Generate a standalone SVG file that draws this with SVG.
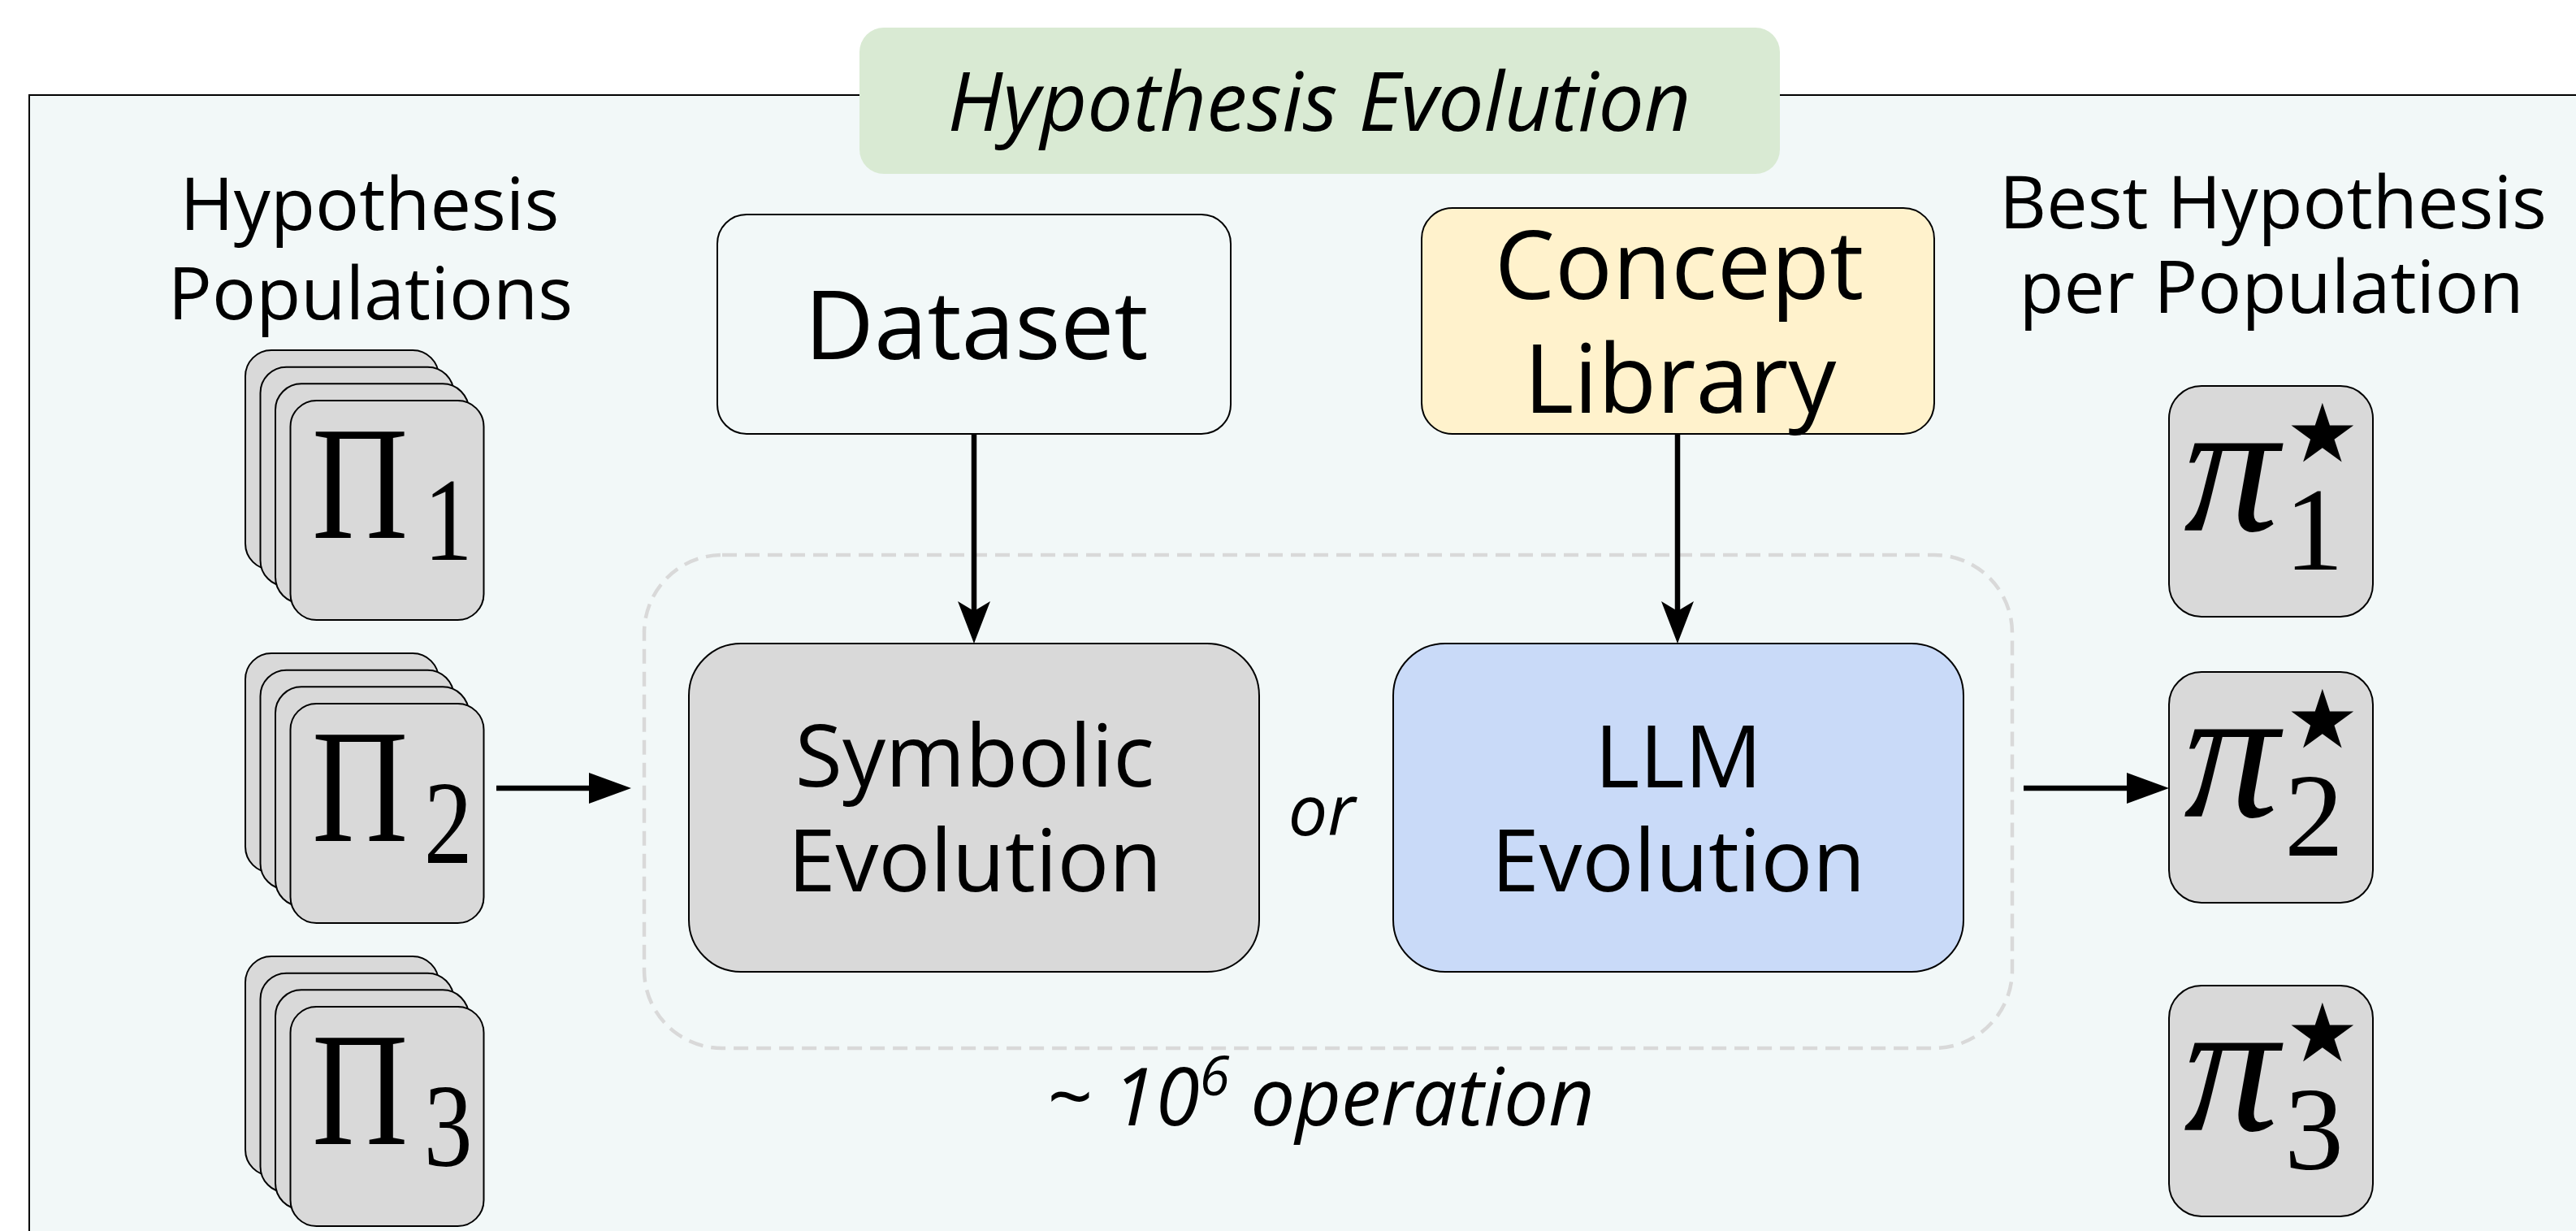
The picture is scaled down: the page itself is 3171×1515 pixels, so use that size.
<svg xmlns="http://www.w3.org/2000/svg" width="3171" height="1515" viewBox="0 0 3171 1515">
  <defs>
    <style>
      .lbl{font-family:"Open Sans","Noto Sans",sans-serif;fill:#000;text-anchor:middle}
      .it{font-style:italic}
      .box{stroke:#000;stroke-width:2}
      .card{fill:#d9d9d9;stroke:#000;stroke-width:2}
      .math{font-family:"Liberation Serif","DejaVu Serif",serif;fill:#000}
      .big{font-size:200px}
      .sub{font-size:146px}
      .pi{font-size:234px;font-style:italic}
      .star{font-family:"DejaVu Sans",sans-serif;font-size:100px}
      .edge{stroke:#000;stroke-width:6.5;fill:none}
    </style>
    <marker id="tri" markerUnits="userSpaceOnUse" viewBox="0 0 52 38" refX="12" refY="19" markerWidth="52" markerHeight="38" orient="auto">
      <path d="M0,0 L52,19 L0,38 Z" fill="#000"/>
    </marker>
    <marker id="stealth" markerUnits="userSpaceOnUse" viewBox="0 0 52 40" refX="12" refY="20" markerWidth="52" markerHeight="40" orient="auto">
      <path d="M0,0 L52,20 L0,40 L12,20 Z" fill="#000"/>
    </marker>
  </defs>

  <rect width="3171" height="1515" fill="#ffffff"/>

  <!-- outer frame -->
  <rect id="frame" x="36" y="117" width="3200" height="1500" fill="#f2f8f8" stroke="#000" stroke-width="2"/>

  <!-- title tab -->
  <g id="title">
    <rect x="1058" y="34" width="1133" height="180" rx="30" fill="#d9ead3"/>
    <text class="lbl it" x="1624" y="161" font-size="100">Hypothesis Evolution</text>
  </g>

  <!-- column headings -->
  <g id="populations-label">
    <text class="lbl" x="455" y="283" font-size="90">Hypothesis</text>
    <text class="lbl" x="456" y="393" font-size="90">Populations</text>
  </g>
  <g id="best-label">
    <text class="lbl" x="2798" y="281" font-size="90">Best Hypothesis</text>
    <text class="lbl" x="2796" y="385" font-size="90">per Population</text>
  </g>

  <!-- loop region -->
  <g id="operation-loop">
    <rect x="793" y="683" width="1684" height="607" rx="96" fill="none" stroke="#d9d9d9" stroke-width="4.5" stroke-dasharray="18 10"/>
    <text class="lbl it" x="1625" y="1385" font-size="98">~ 10<tspan font-size="67" dy="-37">6</tspan><tspan dy="37"> operation</tspan></text>
  </g>

  <!-- inputs -->
  <g id="dataset">
    <rect class="box" x="883" y="264" width="632" height="270" rx="36" fill="#f2f8f8"/>
    <text class="lbl" x="1202" y="442" font-size="118">Dataset</text>
  </g>
  <g id="concept-library">
    <rect class="box" x="1750" y="256" width="631" height="278" rx="38" fill="#fff2cc"/>
    <text class="lbl" x="2067" y="368" font-size="118">Concept</text>
    <text class="lbl" x="2068" y="508" font-size="118">Library</text>
  </g>

  <!-- evolution operators -->
  <g id="symbolic-evolution">
    <rect class="box" x="848" y="792" width="702" height="404" rx="64" fill="#d9d9d9"/>
    <text class="lbl" x="1200" y="968" font-size="106">Symbolic</text>
    <text class="lbl" x="1200" y="1097" font-size="106">Evolution</text>
  </g>
  <g id="or-label">
    <text class="lbl it" x="1627" y="1028" font-size="86">or</text>
  </g>
  <g id="llm-evolution">
    <rect class="box" x="1715" y="792" width="702" height="404" rx="64" fill="#c9daf8"/>
    <text class="lbl" x="2066" y="969" font-size="106">LLM</text>
    <text class="lbl" x="2066" y="1097" font-size="106">Evolution</text>
  </g>

  <!-- hypothesis populations (stacked cards); the label is narrowed to a Computer Modern-like width -->
  <g id="pop-1">
    <rect class="card" x="302" y="431" width="238" height="270" rx="32"/>
    <rect class="card" x="320.5" y="451.7" width="238" height="270" rx="32"/>
    <rect class="card" x="339" y="472.3" width="238" height="270" rx="32"/>
    <rect class="card" x="357.5" y="493" width="238" height="270" rx="32"/>
    <text class="math" transform="translate(384,662) scale(0.82,1)"><tspan class="big">Π</tspan><tspan class="sub" x="168" y="27">1</tspan></text>
  </g>
  <g id="pop-2">
    <rect class="card" x="302" y="804" width="238" height="270" rx="32"/>
    <rect class="card" x="320.5" y="824.7" width="238" height="270" rx="32"/>
    <rect class="card" x="339" y="845.3" width="238" height="270" rx="32"/>
    <rect class="card" x="357.5" y="866" width="238" height="270" rx="32"/>
    <text class="math" transform="translate(384,1035) scale(0.82,1)"><tspan class="big">Π</tspan><tspan class="sub" x="168" y="27">2</tspan></text>
  </g>
  <g id="pop-3">
    <rect class="card" x="302" y="1177" width="238" height="270" rx="32"/>
    <rect class="card" x="320.5" y="1197.7" width="238" height="270" rx="32"/>
    <rect class="card" x="339" y="1218.3" width="238" height="270" rx="32"/>
    <rect class="card" x="357.5" y="1239" width="238" height="270" rx="32"/>
    <text class="math" transform="translate(384,1408) scale(0.82,1)"><tspan class="big">Π</tspan><tspan class="sub" x="168" y="27">3</tspan></text>
  </g>

  <!-- best hypotheses -->
  <g id="best-1">
    <rect class="card" x="2670" y="475" width="251" height="284" rx="40"/>
    <text class="math"><tspan class="pi" x="2688" y="653">π</tspan><tspan class="star" x="2814" y="568">★</tspan><tspan class="sub" x="2812" y="701">1</tspan></text>
  </g>
  <g id="best-2">
    <rect class="card" x="2670" y="827" width="251" height="284" rx="40"/>
    <text class="math"><tspan class="pi" x="2688" y="1005">π</tspan><tspan class="star" x="2814" y="920">★</tspan><tspan class="sub" x="2812" y="1053">2</tspan></text>
  </g>
  <g id="best-3">
    <rect class="card" x="2670" y="1213" width="251" height="284" rx="40"/>
    <text class="math"><tspan class="pi" x="2688" y="1391">π</tspan><tspan class="star" x="2814" y="1306">★</tspan><tspan class="sub" x="2812" y="1439">3</tspan></text>
  </g>

  <!-- connectors -->
  <g id="connectors">
    <line class="edge" x1="1199" y1="534" x2="1199" y2="752" marker-end="url(#stealth)"/>
    <line class="edge" x1="2065" y1="534" x2="2065" y2="752" marker-end="url(#stealth)"/>
    <line class="edge" x1="611" y1="970" x2="737" y2="970" marker-end="url(#tri)"/>
    <line class="edge" x1="2491" y1="970" x2="2630" y2="970" marker-end="url(#tri)"/>
  </g>
</svg>
